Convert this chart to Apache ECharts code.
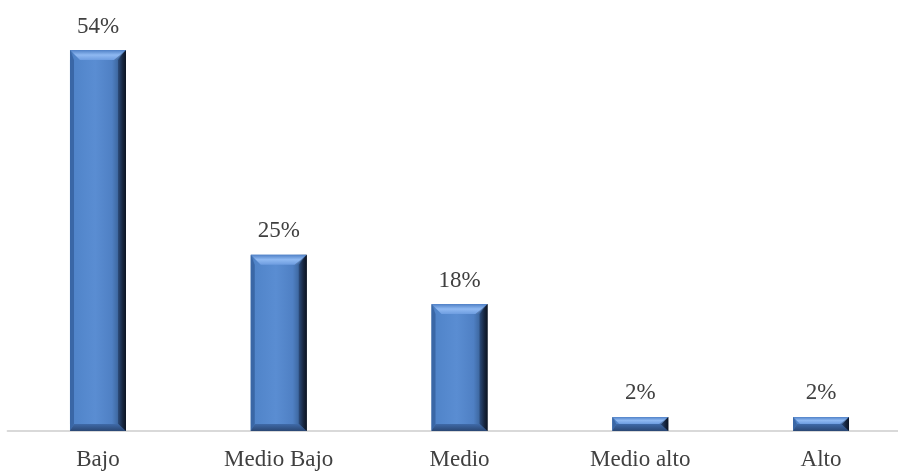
<!DOCTYPE html>
<html>
<head>
<meta charset="utf-8">
<script src="https://cdn.jsdelivr.net/npm/echarts@6/dist/echarts.min.js"></script>
<style>
  html, body { margin: 0; padding: 0; background: #ffffff; }
  #chart { width: 898px; height: 472px; }
</style>
</head>
<body>
<div id="chart"></div>
<script>
// Nivel por categoría (porcentaje)
const categories = ['Bajo', 'Medio Bajo', 'Medio', 'Medio alto', 'Alto'];
const percentages = [54, 25, 18, 2, 2];

const BAR_WIDTH = 56;
const BEVEL = 10;

function lg(x0, y0, x1, y1, stops) {
  return new echarts.graphic.LinearGradient(x0, y0, x1, y1,
    stops.map(s => ({ offset: s[0], color: s[1] })));
}

// Bevelled bar: face plus four slanted edges, all taken from the value axis
function renderBevelBar(params, api) {
  const idx = api.value(0);
  const val = api.value(1);
  const top = api.coord([idx, val]);
  const base = api.coord([idx, 0]);
  const x0 = top[0] - BAR_WIDTH / 2;
  const x1 = top[0] + BAR_WIDTH / 2;
  const y0 = top[1];
  const y1 = base[1];
  const h = y1 - y0;
  const b = Math.min(BEVEL, h / 2);
  const bs = Math.min(7, h / 2);

  const children = [
    {
      type: 'rect',
      shape: { x: x0, y: y0, width: x1 - x0, height: h },
      style: {
        fill: lg(0, 0, 1, 0, [
          [0, '#3f6dab'], [0.07, '#5084c9'], [0.45, '#5a8dd2'],
          [0.75, '#4f80c4'], [0.88, '#3a6399'], [0.95, '#1f3658'], [1, '#0f1a2c']
        ])
      }
    },
    {
      // left edge
      type: 'polygon',
      shape: { points: [[x0, y0], [x0 + 4, y0 + b], [x0 + 4, y1 - bs], [x0, y1]] },
      style: { fill: '#3a67a6' }
    },
    {
      // right edge
      type: 'polygon',
      shape: { points: [[x1, y0], [x1, y1], [x1 - 8, y1 - bs], [x1 - 8, y0 + b]] },
      style: { fill: lg(0, 0, 1, 0, [[0, '#2c4c7c'], [0.6, '#17263f'], [1, '#0c1422']]) }
    },
    {
      // bottom edge
      type: 'polygon',
      shape: { points: [[x0, y1], [x1, y1], [x1 - 8, y1 - bs], [x0 + 4, y1 - bs]] },
      style: { fill: lg(0, 0, 0, 1, [[0, '#3f6aa8'], [1, '#2a4774']]) }
    },
    {
      // top edge, highlighted
      type: 'polygon',
      shape: { points: [[x0, y0], [x1, y0], [x1 - b, y0 + b], [x0 + b, y0 + b]] },
      style: {
        fill: lg(0, 0, 0, 1, [[0, '#4f80c6'], [0.5, '#8fb9f2'], [1, '#6e9de0']])
      }
    },
    {
      // top edge, right corner shading
      type: 'polygon',
      shape: { points: [[x1, y0], [x1 - b, y0 + b], [x1 - b - 2, y0 + b]] },
      style: { fill: 'rgba(20,40,70,0.35)' }
    },
    {
      type: 'text',
      style: {
        text: val + '%',
        x: top[0],
        y: y0 - 12,
        align: 'center',
        verticalAlign: 'bottom',
        fill: '#404040',
        font: '23px "Liberation Serif", "Times New Roman", serif'
      }
    }
  ];
  return { type: 'group', children: children };
}

const chart = echarts.init(document.getElementById('chart'), null, { renderer: 'canvas' });

chart.setOption({
  animation: false,
  backgroundColor: '#ffffff',
  grid: {
    left: 7.6, top: 7.7, width: 903.8, height: 423.3,
    containLabel: false,
    outerBoundsMode: 'none'
  },
  xAxis: {
    type: 'category',
    data: categories,
    axisLine: { show: true, lineStyle: { color: '#d9d9d9', width: 2 } },
    axisTick: { show: false },
    axisLabel: {
      margin: 17,
      color: '#404040',
      fontSize: 23,
      fontFamily: '"Liberation Serif", "Times New Roman", serif'
    }
  },
  yAxis: {
    type: 'value',
    min: 0,
    max: 60,
    show: false,
    splitLine: { show: false }
  },
  series: [{
    type: 'custom',
    renderItem: renderBevelBar,
    encode: { x: 0, y: 1 },
    data: percentages.map((v, i) => [i, v]),
    clip: false
  }]
});
</script>
</body>
</html>
